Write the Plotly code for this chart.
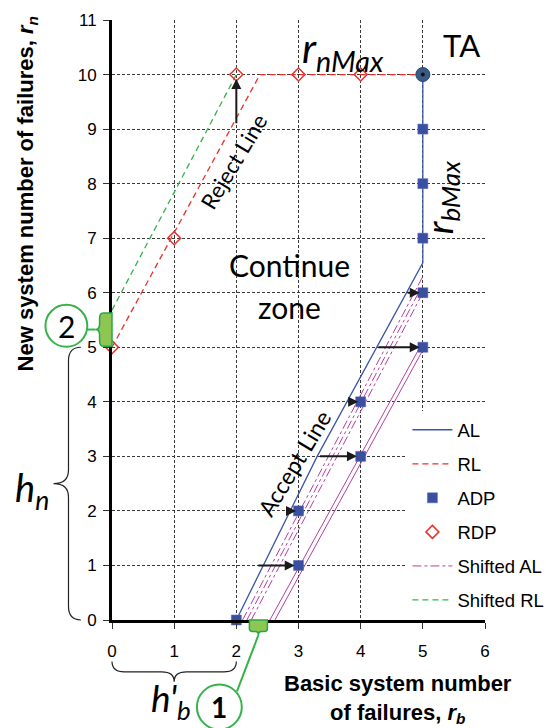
import plotly.graph_objects as go

# ---------------- data ----------------
al_x = [2, 3.3, 5, 5]
al_y = [0, 3, 6.55, 10]
rl_x = [0, 2.38, 5]
rl_y = [5, 10, 10]
adp_x = [2, 3, 3, 4, 4, 5, 5, 5, 5, 5]
adp_y = [0, 1, 2, 3, 4, 5, 6, 7, 8, 9]
rdp_x = [0, 1, 2, 3, 4]
rdp_y = [5, 7, 10, 10, 10]
max_x = [5]
max_y = [10]
srl_x = [0, 2]
srl_y = [5.68, 10]
sal_start_x = [2.10, 2.17, 2.24, 2.54, 2.62]
sal_end_x = [5, 5, 5, 5, 5]
sal_end_y = [6.3, 6.15, 6.0, 5.1, 4.95]

harrow_y = [1, 2, 3, 4, 5, 6]
harrow_from = [2.33, 2.82, 3.32, 3.77, 4.26, 4.73]
harrow_to = [2.94, 2.96, 3.94, 3.96, 4.95, 4.95]
varrow_x = 2
varrow_from = 9.08
varrow_to = 9.92

x_ticks = [0, 1, 2, 3, 4, 5, 6]
y_ticks = list(range(0, 12))
XR = [0, 6]
YR = [0, 11]

# ---------------- styles ----------------
BLUE = "#3D55A8"
RED = "#E8322B"
GREEN = "#35B34A"
MAG = "#B5409E"
ARIAL = "Liberation Sans, Arial"
CAL = "Lato, Liberation Sans"
sal_dash = ["dashdot", "dashdot", "dashdot", "solid", "solid"]


def px(x):
    return (x - XR[0]) / (XR[1] - XR[0])


def py(y):
    return (y - YR[0]) / (YR[1] - YR[0])


fig = go.Figure()

fig.add_trace(go.Scatter(x=al_x, y=al_y, mode="lines", name="AL",
                         line=dict(color=BLUE, width=1.3),
                         legendgroup="al", legendrank=1))
fig.add_trace(go.Scatter(x=rl_x, y=rl_y, mode="lines", name="RL",
                         line=dict(color=RED, width=1.3, dash="6px,4px"),
                         legendgroup="rl", legendrank=2))
for i in range(len(sal_start_x)):
    fig.add_trace(go.Scatter(x=[sal_start_x[i], sal_end_x[i]], y=[0, sal_end_y[i]],
                             mode="lines", name="Shifted AL",
                             line=dict(color=MAG, width=1, dash=sal_dash[i]),
                             legendgroup="sal", showlegend=(i == 0), legendrank=5))
fig.add_trace(go.Scatter(x=srl_x, y=srl_y, mode="lines", name="Shifted RL",
                         line=dict(color=GREEN, width=1.3, dash="6px,4px"),
                         legendgroup="srl", legendrank=6))
fig.add_trace(go.Scatter(x=adp_x, y=adp_y, mode="markers", name="ADP",
                         marker=dict(symbol="square", size=10, color="#3A4FA0",
                                     line=dict(color="#5068B8", width=0.5)),
                         cliponaxis=False, legendgroup="adp", legendrank=3))
fig.add_trace(go.Scatter(x=rdp_x, y=rdp_y, mode="markers", name="RDP",
                         marker=dict(symbol="diamond-open", size=10, color=RED,
                                     line=dict(color=RED, width=1.5)),
                         cliponaxis=False, legendgroup="rdp", legendrank=4))
fig.add_trace(go.Scatter(x=max_x, y=max_y, mode="markers", showlegend=False,
                         marker=dict(symbol="circle", size=14, color="#3B5A86",
                                     line=dict(color="#2B4670", width=1)),
                         cliponaxis=False))
fig.add_trace(go.Scatter(x=max_x, y=max_y, mode="markers", showlegend=False,
                         marker=dict(symbol="circle", size=4, color="#111111"),
                         cliponaxis=False))

annotations = []
# arrows
for yv, a, b in zip(harrow_y, harrow_from, harrow_to):
    annotations.append(dict(x=b, y=yv, ax=a, ay=yv, xref="x", yref="y", axref="x", ayref="y",
                            text="", showarrow=True, arrowhead=2, arrowsize=1,
                            arrowwidth=2, arrowcolor="#1a1a1a", standoff=0))
annotations.append(dict(x=varrow_x, y=varrow_to, ax=varrow_x, ay=varrow_from,
                        xref="x", yref="y", axref="x", ayref="y", text="", showarrow=True,
                        arrowhead=2, arrowsize=1, arrowwidth=2, arrowcolor="#1a1a1a",
                        standoff=0))


def txt(text, x, y, size, family=CAL, angle=0, **kw):
    d = dict(text=text, x=px(x), y=py(y), xref="paper", yref="paper", showarrow=False,
             font=dict(size=size, family=family, color="black"), textangle=angle,
             xanchor="center", yanchor="middle")
    d.update(kw)
    annotations.append(d)


txt("<i>r<sub>nMax</sub></i>", 3.71, 10.45, 41)
txt("TA", 5.62, 10.54, 31)
txt("<i>r<sub>bMax</sub></i>", 5.29, 7.75, 37, angle=-90)
txt("Continue", 2.85, 6.50, 30)
txt("zone", 2.85, 5.73, 30)
txt("Reject Line", 1.957, 8.40, 22, angle=-59)
txt("Accept Line", 2.93, 2.88, 23, angle=-59)
txt("<b>New system number of failures, <i>r<sub>n</sub></i></b>", -1.36, 7.81, 22,
    family=ARIAL, angle=-90)
txt("<b>Basic system number<br>of failures, <i>r<sub>b</sub></i></b>", 4.60, -1.44, 22,
    family=ARIAL)
txt("<i>h<sub>n</sub></i>", -1.29, 2.38, 38)
txt("<i>h'<sub>b</sub></i>", 0.956, -1.48, 37)
txt("<b>1</b>", 1.727, -1.595, 28)
txt("2", -0.734, 5.394, 30)

shapes = []


def P(x, y):
    return f"{px(x):.5f},{py(y):.5f}"


# h_n brace (vertical, tip to the left)
xe, xs, xt = -0.50, -0.70, -0.94
y0, y1 = 0.0, 5.0
ym = (y0 + y1) / 2
r = 0.25
path = (f"M{P(xe, y1)} Q{P(xs, y1)} {P(xs, y1 - r)} L{P(xs, ym + r)} "
        f"Q{P(xs, ym)} {P(xt, ym)} Q{P(xs, ym)} {P(xs, ym - r)} "
        f"L{P(xs, y0 + r)} Q{P(xs, y0)} {P(xe, y0)}")
shapes.append(dict(type="path", path=path, xref="paper", yref="paper",
                   line=dict(color="#222", width=1.2)))

# h'_b brace (horizontal, tip down)
ye, ys, yt = -0.76, -0.95, -1.13
x0b, x1b = 0.0, 2.0
xm = 1.0
rb = 0.2
path = (f"M{P(x0b, ye)} Q{P(x0b, ys)} {P(x0b + rb, ys)} L{P(xm - rb, ys)} "
        f"Q{P(xm, ys)} {P(xm, yt)} Q{P(xm, ys)} {P(xm + rb, ys)} "
        f"L{P(x1b - rb, ys)} Q{P(x1b, ys)} {P(x1b, ye)}")
shapes.append(dict(type="path", path=path, xref="paper", yref="paper",
                   line=dict(color="#222", width=1.2)))

# green marker 2 on the y axis (between RL and shifted RL intercepts)
ga, gt = -0.2, -0.265
gb, gtop = 5.02, 5.63
gm = (gb + gtop) / 2
d = 0.1
path = (f"M{P(0, gtop)} L{P(ga + 0.06, gtop)} Q{P(ga, gtop)} {P(ga, gtop - d)} "
        f"L{P(ga, gm + d)} Q{P(ga, gm)} {P(gt, gm)} Q{P(ga, gm)} {P(ga, gm - d)} "
        f"L{P(ga, gb + d)} Q{P(ga, gb)} {P(ga + 0.06, gb)} L{P(0, gb)} Z")
shapes.append(dict(type="path", path=path, xref="paper", yref="paper",
                   fillcolor="#8DC653", line=dict(color="#27A844", width=1.5)))
c2x, c2y, c2rx, c2ry = -0.734, 5.394, 0.337, 0.385
shapes.append(dict(type="line", xref="paper", yref="paper",
                   x0=px(c2x + c2rx), y0=py(gm), x1=px(gt), y1=py(gm),
                   line=dict(color=GREEN, width=2)))
shapes.append(dict(type="circle", xref="paper", yref="paper",
                   x0=px(c2x - c2rx), x1=px(c2x + c2rx), y0=py(c2y - c2ry), y1=py(c2y + c2ry),
                   line=dict(color=GREEN, width=2), fillcolor="rgba(255,255,255,0)"))

# green marker 1 on the x axis
hx0, hx1 = 2.21, 2.50
hm = (hx0 + hx1) / 2
hb, ht = -0.21, -0.275
e = 0.05
path = (f"M{P(hx0, 0)} L{P(hx0, hb + 0.05)} Q{P(hx0, hb)} {P(hx0 + e, hb)} "
        f"L{P(hm - e, hb)} Q{P(hm, hb)} {P(hm, ht)} Q{P(hm, hb)} {P(hm + e, hb)} "
        f"L{P(hx1 - e, hb)} Q{P(hx1, hb)} {P(hx1, hb + 0.05)} L{P(hx1, 0)} Z")
shapes.append(dict(type="path", path=path, xref="paper", yref="paper",
                   fillcolor="#8DC653", line=dict(color="#27A844", width=1.5)))
c1x, c1y, c1rx, c1ry = 1.727, -1.595, 0.361, 0.4125
shapes.append(dict(type="line", xref="paper", yref="paper",
                   x0=px(hm), y0=py(ht), x1=px(2.01), y1=py(-1.31),
                   line=dict(color=GREEN, width=2)))
shapes.append(dict(type="circle", xref="paper", yref="paper",
                   x0=px(c1x - c1rx), x1=px(c1x + c1rx), y0=py(c1y - c1ry), y1=py(c1y + c1ry),
                   line=dict(color=GREEN, width=2), fillcolor="rgba(255,255,255,0)"))

axis_common = dict(showgrid=True, gridcolor="#3a3a3a", gridwidth=1, griddash="3px,2px",
                   showline=True, linecolor="black", linewidth=3, ticks="outside",
                   ticklen=6, tickcolor="#333", tickwidth=1, zeroline=False,
                   tickfont=dict(family=ARIAL, size=17, color="black"), fixedrange=True)

fig.update_layout(
    width=546, height=728,
    margin=dict(l=111.5, r=61, t=20, b=108, pad=0, autoexpand=False),
    paper_bgcolor="white", plot_bgcolor="white",
    xaxis=dict(range=XR, tickvals=x_ticks, ticklabelstandoff=8, automargin=False,
               **axis_common),
    yaxis=dict(range=YR, tickvals=y_ticks, ticklabelstandoff=3, automargin=False,
               **axis_common),
    legend=dict(x=0.792, y=0.348, xanchor="left", yanchor="top", bgcolor="white",
                borderwidth=0, font=dict(family=ARIAL, size=18.5, color="black"),
                traceorder="grouped", tracegroupgap=7, itemwidth=40),
    annotations=annotations,
    shapes=shapes,
    showlegend=True,
)

fig.write_html("out.html")
